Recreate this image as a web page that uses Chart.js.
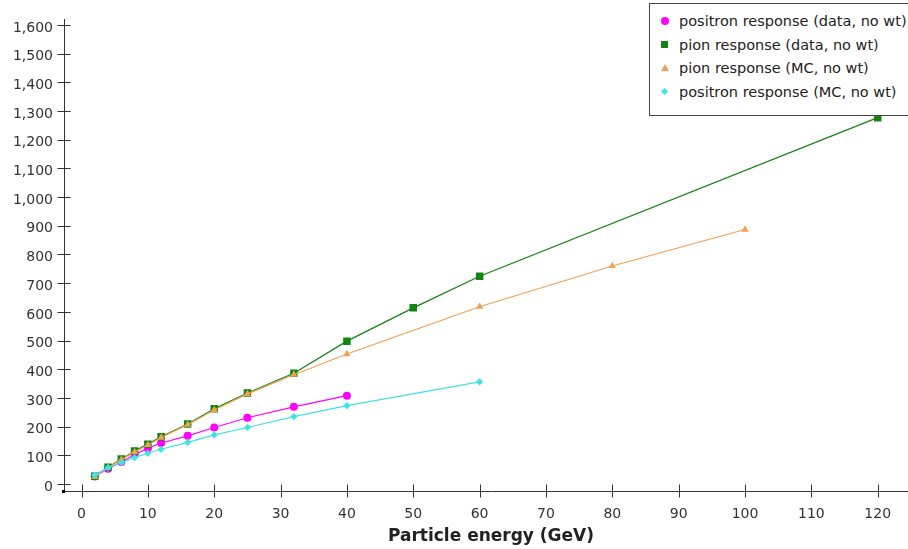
<!DOCTYPE html>
<html>
<head>
<meta charset="utf-8">
<script src="https://cdn.jsdelivr.net/npm/chart.js@4"></script>
<style>
  body { margin: 0; background: #fff; }
  #wrap { position: relative; width: 908px; height: 549px; overflow: hidden; }
  #plot { position: absolute; left: 0; top: 0; width: 918px; height: 549px; }
  #legend {
    position: absolute; left: 649px; top: 3px; width: 270px; height: 113px;
    border: 1px solid #444; background: #fff; box-sizing: border-box;
    font: 14.5px "DejaVu Sans", sans-serif; color: #222;
  }
  .row { position: absolute; left: 0; height: 18px; line-height: 18px; white-space: nowrap; }
  .row span.txt { position: absolute; left: 29px; top: 0; }
  .mk { position: absolute; left: 11px; top: 5px; width: 8px; height: 8px; }
  .circle { border-radius: 50%; background: #ff00ff; }
  .square { background: #118411; left: 11px; top: 5px; width: 7px; height: 7px; }
  .tri { width: 0; height: 0; background: none; left: 11px; top: 5px;
         border-left: 4px solid transparent; border-right: 4px solid transparent; border-bottom: 7px solid #f2a055; }
  .diamond { width: 5px; height: 5px; left: 12px; top: 6px; background: #3fe3e3; transform: rotate(45deg); }
</style>
</head>
<body>
<div id="wrap">
  <div id="plot"><canvas id="chart"></canvas></div>
  <div id="legend"></div>
</div>
<script>
// energies (GeV)
const posDataE = [2, 4, 6, 8, 10, 12, 16, 20, 25, 32, 40];
const posDataR = [26, 53, 77, 102, 125, 143, 168, 197, 231, 269, 308];

const pionDataE = [2, 4, 6, 8, 10, 12, 16, 20, 25, 32, 40, 50, 60, 120];
const pionDataR = [27, 58, 87, 115, 139, 165, 209, 262, 317, 386, 498, 614, 724, 1277];

const pionMcE = [2, 4, 6, 8, 10, 12, 16, 20, 25, 32, 40, 60, 80, 100];
const pionMcR = [25, 57, 85, 112, 136, 162, 207, 258, 314, 381, 453, 618, 760, 887];

const posMcE = [2, 4, 6, 8, 10, 12, 16, 20, 25, 32, 40, 60];
const posMcR = [31, 57, 74, 92, 107, 121, 145, 171, 197, 235, 273, 356];

const xTicks = [0, 10, 20, 30, 40, 50, 60, 70, 80, 90, 100, 110, 120];
const yTicks = [0, 100, 200, 300, 400, 500, 600, 700, 800, 900, 1000, 1100, 1200, 1300, 1400, 1500, 1600];

const legendItems = [
  ["circle", "positron response (data, no wt)"],
  ["square", "pion response (data, no wt)"],
  ["tri", "pion response (MC, no wt)"],
  ["diamond", "positron response (MC, no wt)"]
];

const axisColor = "#333";
const font = { family: "'DejaVu Sans', sans-serif", size: 14 };

function pts(xs, ys) {
  return xs.map((x, i) => ({ x: x, y: ys[i] }));
}

// tick marks that cross the axis lines
const crossTicks = {
  id: "crossTicks",
  beforeDatasetsDraw(chart) {
    const { ctx, scales: { x, y } } = chart;
    ctx.save();
    ctx.strokeStyle = axisColor;
    ctx.lineWidth = 1;
    ctx.beginPath();
    xTicks.forEach(v => {
      const px = Math.round(x.getPixelForValue(v)) + 0.5;
      ctx.moveTo(px, x.top - 6.5);
      ctx.lineTo(px, x.top + 6.5);
    });
    yTicks.forEach(v => {
      const py = Math.round(y.getPixelForValue(v)) + 0.5;
      ctx.moveTo(y.right - 6.5, py);
      ctx.lineTo(y.right + 6.5, py);
    });
    ctx.stroke();
    ctx.fillStyle = "#000";
    ctx.fillRect(y.right - 2, x.top - 1, 3, 3);
    ctx.restore();
  }
};

new Chart(document.getElementById("chart"), {
  type: "line",
  data: {
    datasets: [
      {
        label: legendItems[0][1],
        data: pts(posDataE, posDataR),
        borderColor: "#ff00ff",
        backgroundColor: "#ff00ff",
        pointStyle: "circle",
        pointRadius: 4,
        order: 4
      },
      {
        label: legendItems[1][1],
        data: pts(pionDataE, pionDataR),
        borderColor: "#118411",
        backgroundColor: "#118411",
        pointStyle: "rect",
        pointRadius: 5.3,
        order: 3
      },
      {
        label: legendItems[2][1],
        data: pts(pionMcE, pionMcR),
        borderColor: "#f2a055",
        backgroundColor: "#f2a055",
        pointStyle: "triangle",
        pointRadius: 4.2,
        order: 2
      },
      {
        label: legendItems[3][1],
        data: pts(posMcE, posMcR),
        borderColor: "#3fe3e3",
        backgroundColor: "#3fe3e3",
        pointStyle: "rectRot",
        pointRadius: 3.6,
        order: 1
      }
    ]
  },
  options: {
    responsive: true,
    maintainAspectRatio: false,
    animation: false,
    events: [],
    layout: { autoPadding: false, padding: { top: 18, right: 0, left: 0, bottom: 0 } },
    elements: {
      line: { borderWidth: 1.2, tension: 0 },
      point: { borderWidth: 0, hoverRadius: 0 }
    },
    plugins: { legend: { display: false }, tooltip: { enabled: false } },
    scales: {
      x: {
        type: "linear",
        min: -2.64,
        max: 126.07,
        afterBuildTicks: s => { s.ticks = xTicks.map(v => ({ value: v })); },
        afterFit: s => { s.height = 58; s.paddingLeft = 0; s.paddingRight = 0; },
        grid: { display: false, drawTicks: false },
        border: { display: true, color: axisColor, width: 1 },
        ticks: { color: axisColor, font: font, padding: 15, maxRotation: 0, autoSkip: false },
        title: {
          display: true,
          text: "Particle energy (GeV)",
          color: "#222",
          font: { family: font.family, size: 17, weight: "bold" },
          padding: { top: 0, bottom: 2 }
        }
      },
      y: {
        type: "linear",
        min: -24.4,
        max: 1619.5,
        afterBuildTicks: s => { s.ticks = yTicks.map(v => ({ value: v })); },
        afterFit: s => { s.width = 64; },
        grid: { display: false, drawTicks: false },
        border: { display: true, color: axisColor, width: 1 },
        ticks: {
          color: axisColor,
          font: font,
          padding: 11,
          labelOffset: 3,
          autoSkip: false,
          callback: v => v.toLocaleString("en-US")
        }
      }
    }
  },
  plugins: [crossTicks]
});

// legend drawn as html box over the plot
const legend = document.getElementById("legend");
legendItems.forEach((item, i) => {
  const row = document.createElement("div");
  row.className = "row";
  row.style.top = (8 + i * 23.5) + "px";
  row.innerHTML = '<span class="mk ' + item[0] + '"></span><span class="txt">' + item[1] + "</span>";
  legend.appendChild(row);
});
</script>
</body>
</html>
